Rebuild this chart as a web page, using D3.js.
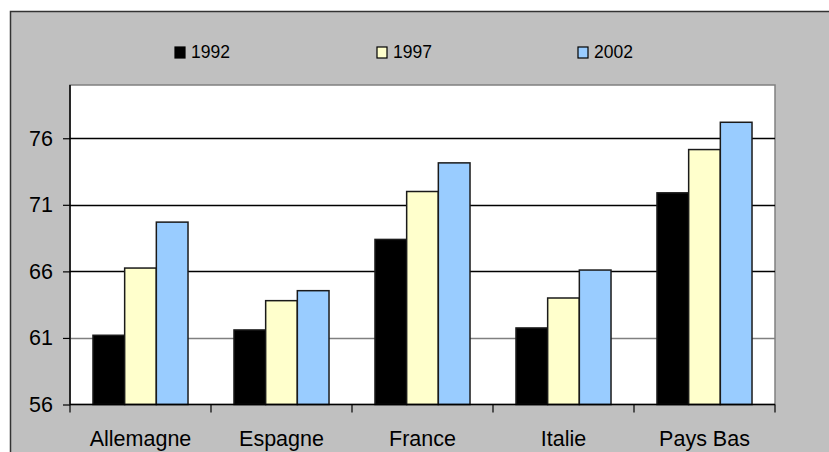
<!DOCTYPE html>
<html>
<head>
<meta charset="utf-8">
<script src="https://cdn.jsdelivr.net/npm/d3@7"></script>
<style>
  html, body { margin: 0; padding: 0; background: #fff; }
  svg { display: block; font-family: "Liberation Sans", Arial, sans-serif; }
</style>
</head>
<body>
<svg id="chart" width="829" height="452"></svg>
<script>
// Country groups and yearly values
const categories = ["Allemagne", "Espagne", "France", "Italie", "Pays Bas"];
const seriesNames = ["1992", "1997", "2002"];
const values1992 = [61.2, 61.6, 68.4, 61.75, 71.9];
const values1997 = [66.25, 63.8, 72.0, 64.0, 75.15];
const values2002 = [69.7, 64.55, 74.15, 66.1, 77.2];
const yTicks = [56, 61, 66, 71, 76];
const colors = ["#000000", "#FFFFCC", "#99CCFF"];

const seriesValues = [values1992, values1997, values2002];

const svg = d3.select("#chart");

// Outer grey frame
svg.append("rect")
  .attr("x", 10.5).attr("y", 11.5)
  .attr("width", 840).attr("height", 460)
  .attr("fill", "#C0C0C0")
  .attr("stroke", "#333").attr("stroke-width", 1.5);

const plot = { left: 70, right: 775, top: 85, bottom: 404.5 };

const x0 = d3.scaleBand()
  .domain(categories)
  .range([plot.left, plot.right])
  .paddingInner(0).paddingOuter(0);

const groupWidth = x0.bandwidth() * 0.674;
const x1 = d3.scaleBand()
  .domain(seriesNames)
  .range([0, groupWidth])
  .padding(0);

const y = d3.scaleLinear()
  .domain([56, 80])
  .range([plot.bottom, plot.top]);

// Plot area
svg.append("rect")
  .attr("x", plot.left).attr("y", plot.top)
  .attr("width", plot.right - plot.left).attr("height", plot.bottom - plot.top)
  .attr("fill", "#fff")
  .attr("stroke", "#808080").attr("stroke-width", 1.5);

// Horizontal gridlines
svg.append("g")
  .selectAll("line")
  .data(yTicks.filter(t => t > 56))
  .join("line")
  .attr("x1", plot.left).attr("x2", plot.right)
  .attr("y1", d => Math.round(y(d)) + 0.5).attr("y2", d => Math.round(y(d)) + 0.5)
  .attr("stroke", d => d === 61 ? "#808080" : "#000")
  .attr("stroke-width", 1.5);

// Bars
const groups = svg.append("g")
  .selectAll("g")
  .data(categories)
  .join("g")
  .attr("transform", d => `translate(${x0(d) + (x0.bandwidth() - groupWidth) / 2},0)`);

groups.selectAll("rect")
  .data((d, i) => seriesNames.map((s, j) => ({ s, v: seriesValues[j][i], c: colors[j] })))
  .join("rect")
  .attr("x", d => x1(d.s))
  .attr("y", d => y(d.v))
  .attr("width", x1.bandwidth())
  .attr("height", d => y(56) - y(d.v))
  .attr("fill", d => d.c)
  .attr("stroke", "#1a1a1a")
  .attr("stroke-width", 1.5);

// Y axis
const yAxis = svg.append("g")
  .attr("transform", `translate(${plot.left},0)`)
  .call(d3.axisLeft(y).tickValues(yTicks).tickSize(7).tickPadding(10).tickFormat(d3.format("d")));
yAxis.select(".domain").attr("stroke", "#000").attr("stroke-width", 1.5)
  .attr("d", `M0,${plot.top}V${plot.bottom}`);
yAxis.selectAll(".tick line").attr("stroke", "#000").attr("stroke-width", 1.2);
yAxis.selectAll(".tick text")
  .attr("font-size", 21.5).attr("fill", "#000")
  .attr("font-family", "'Liberation Sans', Arial, sans-serif");

// X axis
const xAxis = svg.append("g")
  .attr("transform", `translate(0,${plot.bottom})`)
  .call(d3.axisBottom(x0).tickSize(0).tickPadding(26));
xAxis.select(".domain").attr("stroke", "#000").attr("stroke-width", 1.5)
  .attr("d", `M${plot.left},0H${plot.right}`);
xAxis.selectAll(".tick text")
  .attr("font-size", 21.5).attr("fill", "#000")
  .attr("font-family", "'Liberation Sans', Arial, sans-serif");

// Category separators below the axis
const bounds = categories.map(c => x0(c)).concat([plot.right]);
svg.append("g")
  .selectAll("line")
  .data(bounds)
  .join("line")
  .attr("x1", d => d).attr("x2", d => d)
  .attr("y1", plot.bottom).attr("y2", plot.bottom + 8)
  .attr("stroke", "#000").attr("stroke-width", 1.2);

// Legend
const legendX = [175, 377, 578];
const legend = svg.append("g")
  .selectAll("g")
  .data(seriesNames)
  .join("g")
  .attr("transform", (d, i) => `translate(${legendX[i]},47)`);
legend.append("rect")
  .attr("width", 10).attr("height", 11)
  .attr("fill", (d, i) => colors[i])
  .attr("stroke", "#000").attr("stroke-width", 1.2);
legend.append("text")
  .attr("x", 16).attr("y", 11)
  .attr("font-size", 17.5)
  .attr("fill", "#000")
  .text(d => d);
</script>
</body>
</html>
